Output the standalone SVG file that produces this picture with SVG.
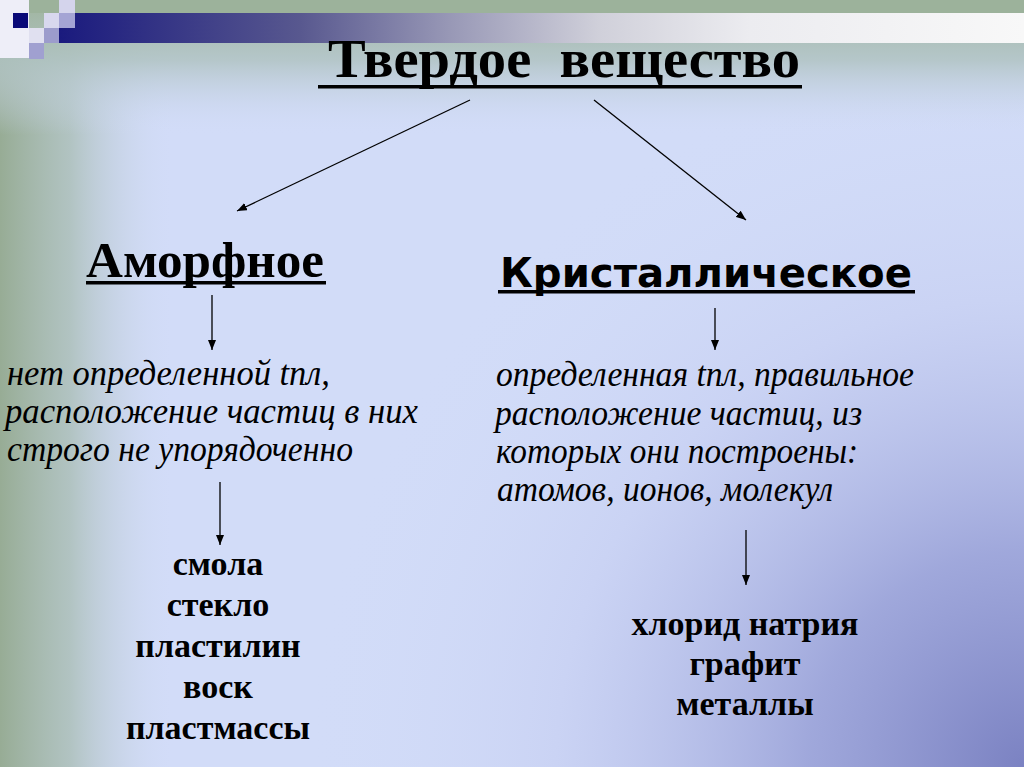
<svg xmlns="http://www.w3.org/2000/svg" width="1024" height="767" viewBox="0 0 1024 767">
<defs>
<radialGradient id="purple" gradientUnits="userSpaceOnUse" cx="1024" cy="767" r="720">
<stop offset="0" stop-color="#7b82c2" stop-opacity="1"/>
<stop offset="0.3" stop-color="#9aa2d8" stop-opacity="0.9"/>
<stop offset="0.65" stop-color="#c2caf0" stop-opacity="0.5"/>
<stop offset="1" stop-color="#d2dcf8" stop-opacity="0"/>
</radialGradient>
<linearGradient id="leftg" gradientUnits="userSpaceOnUse" x1="0" y1="0" x2="175" y2="0">
<stop offset="0" stop-color="#97ac95" stop-opacity="1"/>
<stop offset="0.4" stop-color="#a9bdb4" stop-opacity="0.8"/>
<stop offset="1" stop-color="#d2dcf8" stop-opacity="0"/>
</linearGradient>
<linearGradient id="topg" gradientUnits="userSpaceOnUse" x1="0" y1="0" x2="0" y2="135">
<stop offset="0" stop-color="#9fb49e" stop-opacity="1"/>
<stop offset="0.45" stop-color="#b0c3c2" stop-opacity="0.85"/>
<stop offset="1" stop-color="#d2dcf8" stop-opacity="0"/>
</linearGradient>
<linearGradient id="bar" gradientUnits="userSpaceOnUse" x1="59" y1="0" x2="1024" y2="0">
<stop offset="0" stop-color="#1a1a7e"/>
<stop offset="0.25" stop-color="#58588f"/>
<stop offset="0.405" stop-color="#9898b6"/>
<stop offset="0.56" stop-color="#d0d0da"/>
<stop offset="0.716" stop-color="#ececf0"/>
<stop offset="1" stop-color="#f8f8f8"/>
</linearGradient>
<marker id="ah" markerUnits="userSpaceOnUse" markerWidth="10" markerHeight="8" refX="10" refY="4" orient="auto">
<path d="M0,0 L10,4 L0,8 z" fill="#000"/>
</marker>
<style>
.h1{font-family:"Liberation Serif","Times New Roman",serif;font-weight:bold;fill:#000}
.h2{font-family:"DejaVu Sans","Liberation Sans",sans-serif;font-weight:bold;fill:#000}
.it{font-family:"Liberation Serif","Times New Roman",serif;font-style:italic;font-size:35px;fill:#000}
.lst{font-family:"Liberation Serif","Times New Roman",serif;font-weight:bold;font-size:34px;fill:#000;text-anchor:middle}
.ul{fill:#000}
.conn line{stroke:#000;stroke-width:1.3;marker-end:url(#ah)}
</style>
</defs>
<g id="background">
<rect x="0" y="0" width="1024" height="767" fill="#d2dcf8"/>
<rect x="0" y="0" width="1024" height="767" fill="url(#purple)"/>
<rect x="0" y="0" width="1024" height="767" fill="url(#leftg)"/>
<rect x="0" y="0" width="1024" height="140" fill="url(#topg)"/>
<rect x="0" y="0" width="1024" height="13" fill="#9cb29b"/>
<rect x="59" y="13" width="965" height="30" fill="url(#bar)"/>
<rect x="0" y="0" width="29" height="58" fill="#eeeef8"/>
<rect x="13" y="13" width="15" height="15" fill="#0a0a78"/>
<rect x="44" y="13" width="15" height="15" fill="#d8d8ee"/>
<rect x="59" y="0" width="16" height="13" fill="#d4d4ec"/>
<rect x="59" y="13" width="16" height="15" fill="#a4a4d4"/>
<rect x="29" y="28" width="15" height="15" fill="#e0e0f0"/>
<rect x="44" y="28" width="15" height="15" fill="#9c9ccc"/>
<rect x="29" y="43" width="15" height="16" fill="#a0a0d0"/>
</g>
<g id="title">
<text class="h1" x="328" y="77" font-size="55" xml:space="preserve" textLength="472" lengthAdjust="spacingAndGlyphs">Твердое  вещество</text>
<rect class="ul" x="318" y="85" width="484" height="3.5"/>
</g>
<g id="amorphous">
<text class="h1" x="86" y="277" font-size="51" textLength="238" lengthAdjust="spacingAndGlyphs">Аморфное</text>
<rect class="ul" x="86" y="281" width="240" height="3.5"/>
</g>
<g id="crystalline">
<text class="h2" x="500" y="287" font-size="40" textLength="412" lengthAdjust="spacingAndGlyphs">Кристаллическое</text>
<rect class="ul" x="498" y="290" width="417" height="3.5"/>
</g>
<g id="amorphous-desc">
<text class="it" x="7" y="385" textLength="323" lengthAdjust="spacingAndGlyphs">нет определенной tпл,</text>
<text class="it" x="5" y="423" textLength="413" lengthAdjust="spacingAndGlyphs">расположение частиц в них</text>
<text class="it" x="7" y="461" textLength="346" lengthAdjust="spacingAndGlyphs">строго не упорядоченно</text>
</g>
<g id="crystalline-desc">
<text class="it" x="496" y="386" textLength="418" lengthAdjust="spacingAndGlyphs">определенная tпл, правильное</text>
<text class="it" x="495" y="425" textLength="367" lengthAdjust="spacingAndGlyphs">расположение частиц, из</text>
<text class="it" x="496" y="463" textLength="362" lengthAdjust="spacingAndGlyphs">которых они построены:</text>
<text class="it" x="497" y="501" textLength="336" lengthAdjust="spacingAndGlyphs">атомов, ионов, молекул</text>
</g>
<g id="amorphous-examples">
<text class="lst" x="218" y="575">смола</text>
<text class="lst" x="218" y="616">стекло</text>
<text class="lst" x="218" y="657">пластилин</text>
<text class="lst" x="218" y="698">воск</text>
<text class="lst" x="218" y="739">пластмассы</text>
</g>
<g id="crystalline-examples">
<text class="lst" x="745" y="635">хлорид натрия</text>
<text class="lst" x="745" y="675">графит</text>
<text class="lst" x="745" y="715">металлы</text>
</g>
<g id="connectors" class="conn">
<line x1="470" y1="100" x2="237" y2="211"/>
<line x1="594" y1="100" x2="746" y2="220"/>
<line x1="212" y1="295" x2="212" y2="350"/>
<line x1="715" y1="308" x2="715" y2="350"/>
<line x1="220" y1="482" x2="220" y2="545"/>
<line x1="746" y1="530" x2="746" y2="585"/>
</g>
</svg>
